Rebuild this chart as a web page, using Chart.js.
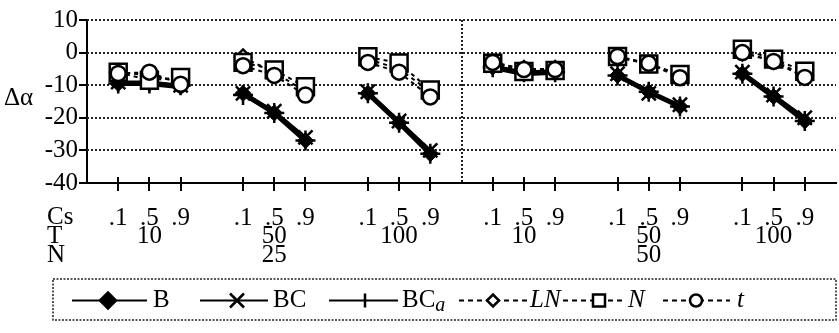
<!DOCTYPE html>
<html>
<head>
<meta charset="utf-8">
<script src="https://cdn.jsdelivr.net/npm/chart.js@4.4.1/dist/chart.umd.min.js"></script>
<style>
    html, body { margin: 0; padding: 0; background: #fff; }
    #wrap { width: 839px; height: 333px; }
</style>
</head>
<body>
<div id="wrap"><canvas id="deltaChart" width="839" height="333"></canvas></div>
<script>
// tick labels
const csLabels = ['.1', '.5', '.9'];
const tLabels = ['10', '50', '100', '10', '50', '100'];
const nLabels = ['25', '50'];
const yTicks = [10, 0, -10, -20, -30, -40];

// delta alpha, 6 groups (N=25: T=10,50,100 ; N=50: T=10,50,100) x 3 Cs values
const bValues   = [-9.5, -9.5, -10.5,  -12.5, -18.5, -27,  -12.5, -21.5, -31,  -4.5, -6.5, -6,  -7, -12, -16.5,  -6.5, -13.5, -21];
const bcValues  = [-9, -9, -10,  -12.5, -18, -26,  -12, -21, -30,  -4, -6, -5.5,  -6.5, -12.5, -16,  -6, -13, -20];
const bcaValues = [-9.5, -9.5, -10,  -13, -18.5, -27,  -12.5, -21.5, -31,  -4.5, -6, -6,  -7, -12, -16.5,  -6.5, -13.5, -21];
const lnValues  = [-6, -7, -9,  -1.5, -6, -12,  -2, -5, -12,  -3, -5, -5,  -1.5, -3.5, -7,  0, -2.5, -7];
const nValues   = [-6, -8.5, -7.6,  -3, -5.3, -10.5,  -1.3, -3.2, -11.5,  -3.3, -5.8, -5.5,  -1.2, -3.5, -6.7,  1, -2, -5.7];
const tValues   = [-6.4, -6, -9.7,  -4, -7, -13,  -3, -6, -13.6,  -3, -5.2, -5.2,  -1.2, -3.3, -7.7,  0, -2.7, -7.6];

const SERIF = "'Liberation Serif', 'DejaVu Serif', serif";
const FONT_SIZE = 25;

// x position of group g, Cs index i (one blank slot between groups)
function xPos(g, i) { return 1 + 4 * g + i; }

const tickPositions = [];
for (let g = 0; g < tLabels.length; g++) {
    for (let i = 0; i < csLabels.length; i++) tickPositions.push(xPos(g, i));
}

function toPoints(values) {
    const pts = [];
    for (let g = 0; g < tLabels.length; g++) {
        for (let i = 0; i < csLabels.length; i++) {
            pts.push({ x: xPos(g, i), y: values[g * 3 + i] });
        }
        pts.push({ x: xPos(g, 3), y: null }); // break the line between groups
    }
    return pts;
}

function series(label, values, opts) {
    return Object.assign({
        label: label,
        data: toPoints(values),
        borderColor: '#000',
        pointBorderColor: '#000',
        backgroundColor: '#fff',
        fill: false,
        tension: 0,
        spanGaps: false
    }, opts);
}

const overlay = {
    id: 'overlay',
    beforeDatasetsDraw(chart) {
        const ctx = chart.ctx;
        const area = chart.chartArea;
        const x = chart.scales.x, y = chart.scales.y;
        ctx.save();
        ctx.strokeStyle = '#222';
        ctx.lineWidth = 2;
        ctx.setLineDash([2, 2]);
        yTicks.forEach(v => {
            if (v === -40) return;
            const py = Math.round(y.getPixelForValue(v));
            ctx.beginPath();
            ctx.moveTo(area.left, py);
            ctx.lineTo(area.right, py);
            ctx.stroke();
        });
        // divider between N=25 and N=50
        const px = Math.round(x.getPixelForValue(12));
        ctx.beginPath();
        ctx.moveTo(px, area.top);
        ctx.lineTo(px, area.bottom);
        ctx.stroke();
        ctx.restore();
    },
    afterDraw(chart) {
        const ctx = chart.ctx;
        const area = chart.chartArea;
        const x = chart.scales.x;
        ctx.save();
        // x tick marks crossing the axis
        ctx.strokeStyle = '#000';
        ctx.lineWidth = 2;
        tickPositions.forEach(v => {
            const px = Math.round(x.getPixelForValue(v));
            ctx.beginPath();
            ctx.moveTo(px, area.bottom - 6);
            ctx.lineTo(px, area.bottom + 8);
            ctx.stroke();
        });

        ctx.fillStyle = '#000';
        ctx.font = FONT_SIZE + 'px ' + SERIF;
        ctx.textBaseline = 'middle';
        ctx.textAlign = 'left';
        ctx.fillText('Cs', 47, area.bottom + 34);
        ctx.fillText('T', 47, area.bottom + 53);
        ctx.fillText('N', 47, area.bottom + 72);
        ctx.fillText('\u0394\u03b1', 4, (area.top + area.bottom) / 2 - 3);

        ctx.textAlign = 'center';
        tLabels.forEach((t, g) => {
            ctx.fillText(t, x.getPixelForValue(xPos(g, 1)), area.bottom + 53);
        });
        nLabels.forEach((n, k) => {
            ctx.fillText(n, x.getPixelForValue(xPos(k * 3 + 1, 1)), area.bottom + 72);
        });

        drawLegend(ctx);
        ctx.restore();
    }
};

function marker(ctx, style, cx, cy, r, filled) {
    ctx.beginPath();
    if (style === 'diamond') {
        ctx.moveTo(cx - r, cy); ctx.lineTo(cx, cy - r); ctx.lineTo(cx + r, cy); ctx.lineTo(cx, cy + r); ctx.closePath();
    } else if (style === 'square') {
        ctx.rect(cx - r, cy - r, 2 * r, 2 * r);
    } else if (style === 'circle') {
        ctx.arc(cx, cy, r, 0, Math.PI * 2);
    } else if (style === 'x') {
        ctx.moveTo(cx - r, cy - r); ctx.lineTo(cx + r, cy + r);
        ctx.moveTo(cx + r, cy - r); ctx.lineTo(cx - r, cy + r);
        ctx.stroke();
        return;
    } else if (style === 'plus') {
        ctx.moveTo(cx, cy - r); ctx.lineTo(cx, cy + r);
        ctx.stroke();
        return;
    }
    ctx.fillStyle = filled ? '#000' : '#fff';
    ctx.fill();
    ctx.stroke();
}

function drawLegend(ctx) {
    const top = 279, bottom = 320, left = 53, right = 836;
    const cy = (top + bottom) / 2 + 1;
    ctx.strokeStyle = '#222';
    ctx.lineWidth = 1.5;
    ctx.setLineDash([2, 1.5]);
    ctx.strokeRect(left, top, right - left, bottom - top);

    const items = [
        { text: 'B', style: 'diamond', filled: true, dashed: false, x0: 72, x1: 147, mx: 108, r: 8, tx: 153 },
        { text: 'BC', style: 'x', dashed: false, x0: 200, x1: 268, mx: 237, r: 7, tx: 273 },
        { text: 'BC', sub: 'a', style: 'plus', dashed: false, x0: 329, x1: 398, mx: 365, r: 7, tx: 402 },
        { text: 'LN', italic: true, style: 'diamond', dashed: true, x0: 459, x1: 528, mx: 493, r: 6, tx: 530 },
        { text: 'N', italic: true, style: 'square', dashed: true, x0: 563, x1: 625, mx: 599, r: 6, tx: 628 },
        { text: 't', italic: true, style: 'circle', dashed: true, x0: 663, x1: 730, mx: 696, r: 6, tx: 737 }
    ];
    items.forEach(it => {
        ctx.strokeStyle = '#000';
        ctx.lineWidth = 2;
        ctx.setLineDash(it.dashed ? [5, 4] : []);
        ctx.beginPath();
        ctx.moveTo(it.x0, cy);
        ctx.lineTo(it.x1, cy);
        ctx.stroke();
        ctx.setLineDash([]);
        ctx.lineWidth = 2.5;
        marker(ctx, it.style, it.mx, cy, it.r, it.filled);

        ctx.fillStyle = '#000';
        ctx.textAlign = 'left';
        ctx.textBaseline = 'middle';
        ctx.font = (it.italic ? 'italic ' : '') + FONT_SIZE + 'px ' + SERIF;
        ctx.fillText(it.text, it.tx, cy);
        if (it.sub) {
            const w = ctx.measureText(it.text).width;
            ctx.font = 'italic 20px ' + SERIF;
            ctx.fillText(it.sub, it.tx + w, cy + 5);
        }
    });
}

const ctx = document.getElementById('deltaChart').getContext('2d');
const chart = new Chart(ctx, {
    type: 'line',
    data: {
        datasets: [
            series('B', bValues, { order: 6, borderWidth: 5, pointStyle: 'rectRot', pointRadius: 8, pointBackgroundColor: '#000', pointBorderWidth: 1 }),
            series('BC', bcValues, { order: 5, borderWidth: 3, pointStyle: 'crossRot', pointRadius: 10, pointBorderWidth: 2.5 }),
            series('BCa', bcaValues, { order: 4, borderWidth: 3, pointStyle: 'cross', pointRadius: 10, pointBorderWidth: 2.5 }),
            series('LN', lnValues, { order: 3, borderWidth: 2, borderDash: [4, 4], pointStyle: 'rectRot', pointRadius: 8, pointBackgroundColor: '#fff', pointBorderWidth: 2.5 }),
            series('N', nValues, { order: 2, borderWidth: 2, borderDash: [4, 4], pointStyle: 'rect', pointRadius: 12, pointBackgroundColor: '#fff', pointBorderWidth: 2.5 }),
            series('t', tValues, { order: 1, borderWidth: 2, borderDash: [4, 4], pointStyle: 'circle', pointRadius: 7.5, pointBackgroundColor: '#fff', pointBorderWidth: 2.5 })
        ]
    },
    options: {
        responsive: false,
        animation: false,
        devicePixelRatio: 1,
        layout: { autoPadding: false, padding: { top: 20, right: 3, bottom: 0, left: 0 } },
        plugins: {
            legend: { display: false },
            tooltip: { enabled: false }
        },
        scales: {
            x: {
                type: 'linear',
                min: 0,
                max: 24,
                afterBuildTicks: s => { s.ticks = tickPositions.map(v => ({ value: v })); },
                afterFit: s => { s.height = 150; s.paddingLeft = 0; s.paddingRight = 0; },
                grid: { display: false },
                border: { display: true, color: '#000', width: 2 },
                ticks: {
                    autoSkip: false,
                    maxRotation: 0,
                    padding: 12,
                    color: '#000',
                    font: { family: SERIF, size: FONT_SIZE },
                    callback: v => csLabels[(v - 1) % 4]
                }
            },
            y: {
                min: -40,
                max: 10,
                afterBuildTicks: s => { s.ticks = yTicks.map(v => ({ value: v })); },
                afterFit: s => { s.width = 87; s.paddingTop = 0; s.paddingBottom = 0; },
                grid: { drawOnChartArea: false, drawTicks: true, tickLength: 8, color: '#000', lineWidth: 2 },
                border: { display: true, color: '#000', width: 2 },
                ticks: { autoSkip: false, padding: 1, color: '#000', font: { family: SERIF, size: FONT_SIZE } }
            }
        }
    },
    plugins: [overlay]
});
</script>
</body>
</html>
